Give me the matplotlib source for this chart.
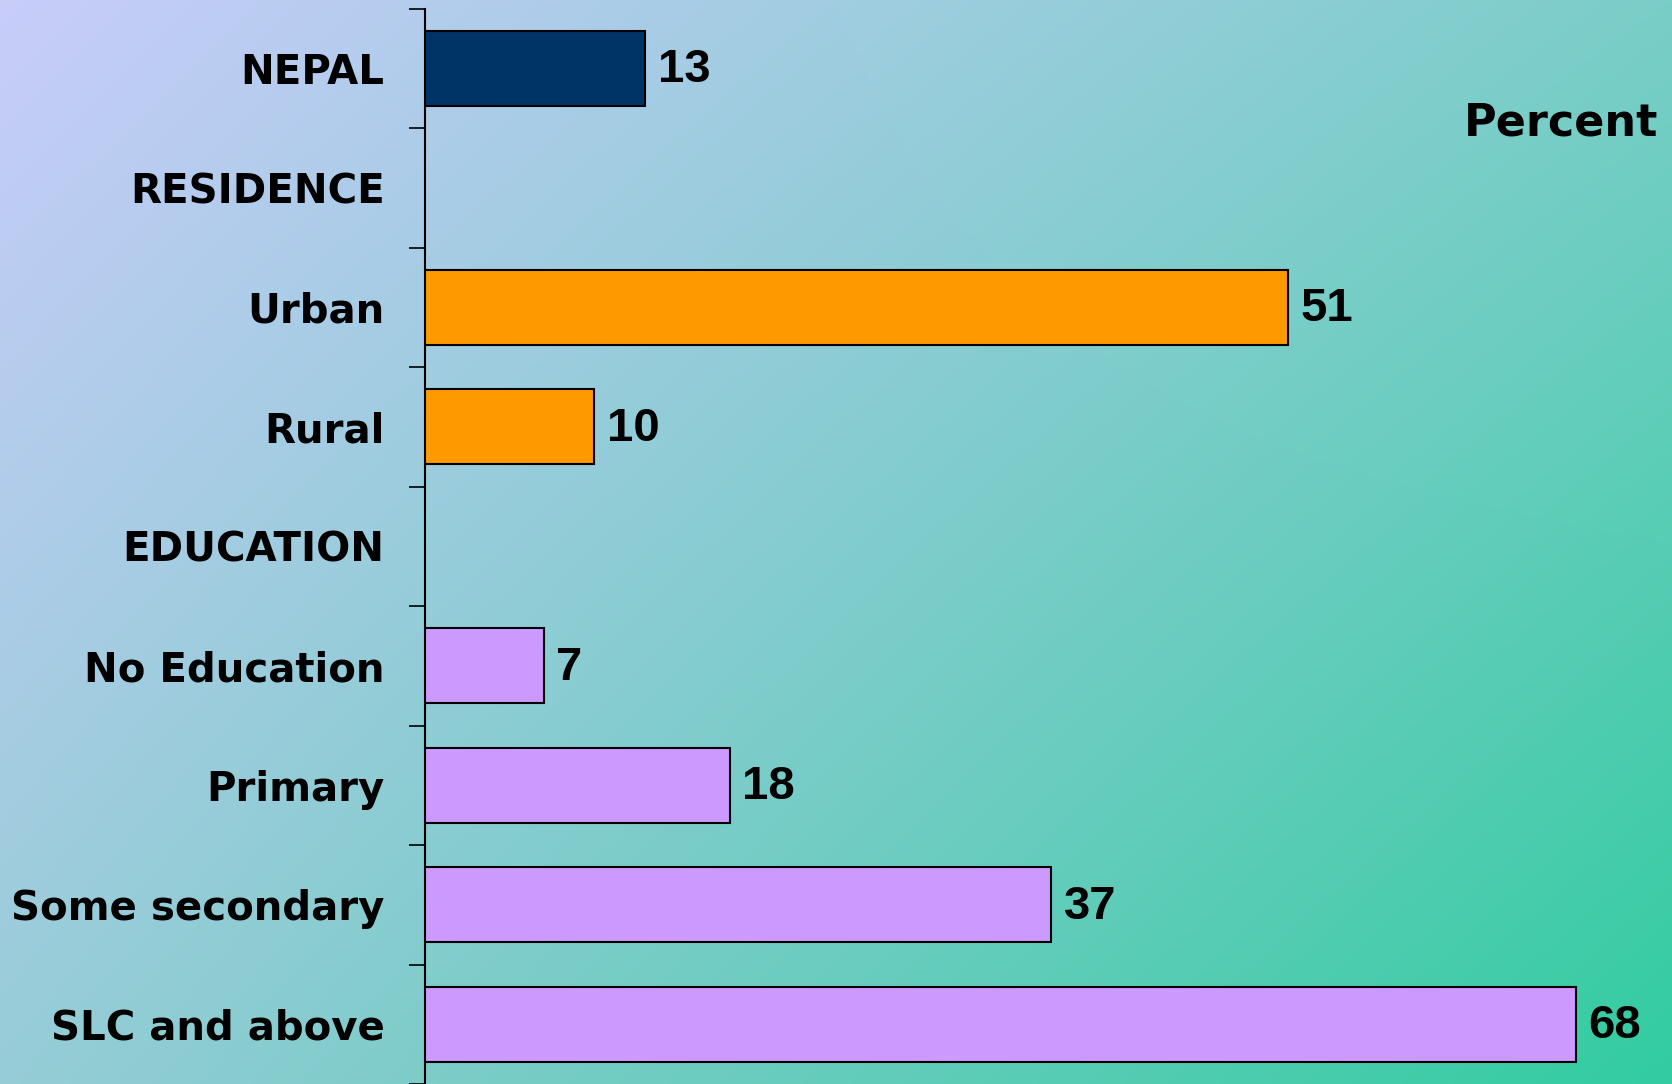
import numpy as np
import matplotlib
matplotlib.use("Agg")
import matplotlib.pyplot as plt

categories = ["NEPAL", "RESIDENCE", "Urban", "Rural", "EDUCATION",
              "No Education", "Primary", "Some secondary", "SLC and above"]
values = [13, None, 51, 10, None, 7, 18, 37, 68]
colors = ["#003366", None, "#FF9900", "#FF9900", None,
          "#CC99FF", "#CC99FF", "#CC99FF", "#CC99FF"]
unit_label = "Percent"

W, H, DPI = 1672, 1084, 100
fig = plt.figure(figsize=(W / DPI, H / DPI), dpi=DPI)

# background gradient
bg = fig.add_axes([0, 0, 1, 1], zorder=-10)
tl = np.array([200, 204, 250]) / 255
tr = np.array([122, 206, 200]) / 255
bl = np.array([150, 205, 215]) / 255
br = np.array([50, 204, 160]) / 255
u = np.linspace(0, 1, 400)[None, :, None]
v = np.linspace(0, 1, 260)[:, None, None]
img = (1 - v) * ((1 - u) * tl + u * tr) + v * ((1 - u) * bl + u * br)
bg.imshow(img, aspect="auto", extent=[0, 1, 0, 1], interpolation="bilinear")
bg.set_axis_off()

left = 425 / W
top = 1 - 8.5 / H
ax = fig.add_axes([left, 0.0, 1 - left, top])
ax.set_facecolor("none")

n = len(categories)
ypos = np.arange(n)
for i, (val, c) in enumerate(zip(values, colors)):
    if val is None:
        continue
    ax.barh(i, val, height=0.63, color=c, edgecolor="black", linewidth=1.5, zorder=3)
    ax.annotate(str(val), xy=(val, i), xytext=(9, -1.5), textcoords="offset points",
                va="center", ha="left", fontsize=34, fontweight="bold",
                family="Liberation Sans", color="black")

ax.set_ylim(n - 0.5, -0.5)
ax.set_xlim(0, (W - 425) / 16.93)

ax.set_yticks(np.arange(n + 1) - 0.5)
ax.set_yticklabels([])
ax.tick_params(axis="y", which="major", length=11.5, width=1.2, direction="out")
ax.set_yticks(ypos, minor=True)
ax.set_yticklabels(categories, minor=True, fontsize=29, fontweight="bold",
                   family="DejaVu Sans")
ax.tick_params(axis="y", which="minor", length=0, pad=29)
ax.set_xticks([])
for s in ["top", "right", "bottom"]:
    ax.spines[s].set_visible(False)
ax.spines["left"].set_linewidth(1.5)

fig.text(1658 / W, 1 - 123 / H, unit_label, ha="right", va="center",
         fontsize=32, fontweight="bold", family="DejaVu Sans")

fig.savefig("out.png", dpi=DPI)
